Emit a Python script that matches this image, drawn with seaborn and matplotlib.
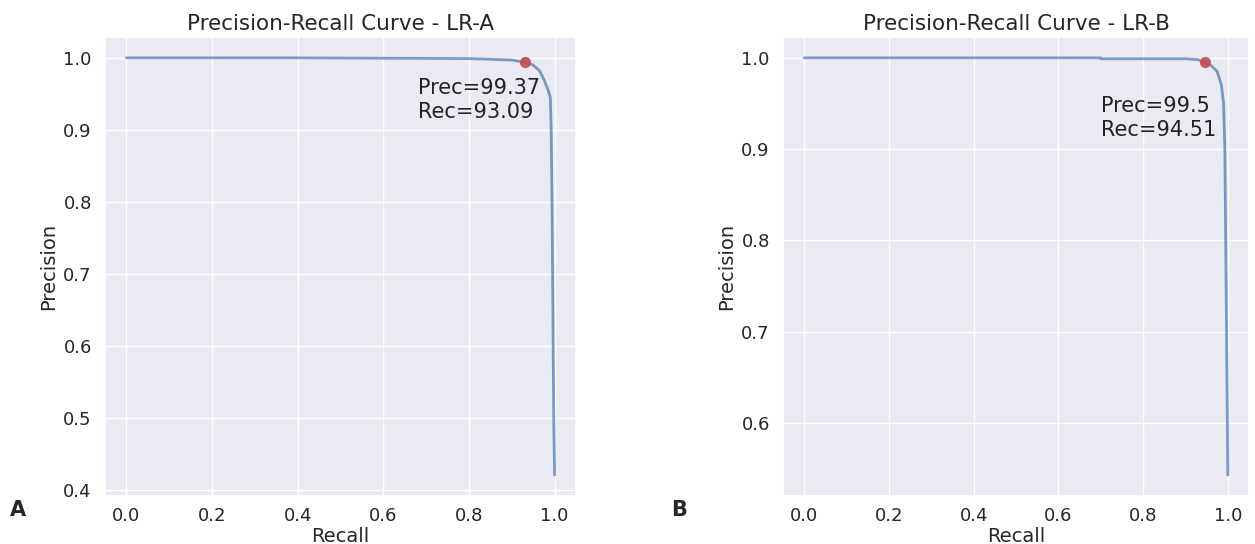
import matplotlib
matplotlib.use("Agg")
import matplotlib.pyplot as plt
import seaborn as sns
import numpy as np

sns.set_theme(style="darkgrid", font_scale=1.3)
plt.rcParams['font.family'] = ['DejaVu Sans']

# Panel A (LR-A)
recall_a = [0.0, 0.2, 0.4, 0.6, 0.8, 0.85, 0.9, 0.9309, 0.95, 0.965, 0.975, 0.985, 0.99, 0.992, 0.994, 0.996, 0.998, 1.0]
prec_a = [1.0, 1.0, 1.0, 0.9995, 0.999, 0.998, 0.997, 0.9937, 0.990, 0.982, 0.970, 0.955, 0.945, 0.90, 0.80, 0.65, 0.50, 0.42]
best_a = (0.9309, 0.9937)
label_a = "Prec=99.37\nRec=93.09"

# Panel B (LR-B)
recall_b = [0.0, 0.2, 0.4, 0.6, 0.70, 0.701, 0.8, 0.9, 0.93, 0.9451, 0.96, 0.975, 0.985, 0.99, 0.993, 0.995, 0.997, 0.999, 1.0]
prec_b = [1.0, 1.0, 1.0, 1.0, 1.0, 0.999, 0.999, 0.999, 0.998, 0.995, 0.992, 0.985, 0.97, 0.95, 0.90, 0.80, 0.70, 0.60, 0.543]
best_b = (0.9451, 0.995)
label_b = "Prec=99.5\nRec=94.51"

fig = plt.figure(figsize=(12.55, 5.44), dpi=100)
W, H = 1255, 544
axA = fig.add_axes([105/W, (H-496)/H, 471/W, 459/H])
axB = fig.add_axes([783/W, (H-496)/H, 466/W, 459/H])

line_col = "#4c72b0"
for ax, r, p, best, lab, title, txt in [
    (axA, recall_a, prec_a, best_a, label_a, "Precision-Recall Curve - LR-A", (0.682, 0.972)),
    (axB, recall_b, prec_b, best_b, label_b, "Precision-Recall Curve - LR-B", (0.70, 0.958)),
]:
    sns.lineplot(x=r, y=p, ax=ax, color=line_col, alpha=0.7, lw=2, estimator=None, sort=False)
    ax.plot([best[0]], [best[1]], 'o', color="#c44e52", ms=7, alpha=0.9)
    ax.text(txt[0], txt[1], lab, ha='left', va='top', fontsize=15, color="#222222", linespacing=1.25)
    ax.set_title(title, fontsize=15.5, pad=5)
    ax.set_xlabel("Recall", fontsize=14, labelpad=1)
    ax.set_ylabel("Precision", fontsize=14)
    ax.set_xticks([0.0, 0.2, 0.4, 0.6, 0.8, 1.0])
    ax.tick_params(labelsize=13)
    ax.tick_params(axis='x', pad=2)

fig.text(10/W, 1 - 510/H, "A", fontsize=15, fontweight='bold', ha='left', va='center')
fig.text(671/W, 1 - 510/H, "B", fontsize=15, fontweight='bold', ha='left', va='center')

fig.savefig("out.png", dpi=100)
